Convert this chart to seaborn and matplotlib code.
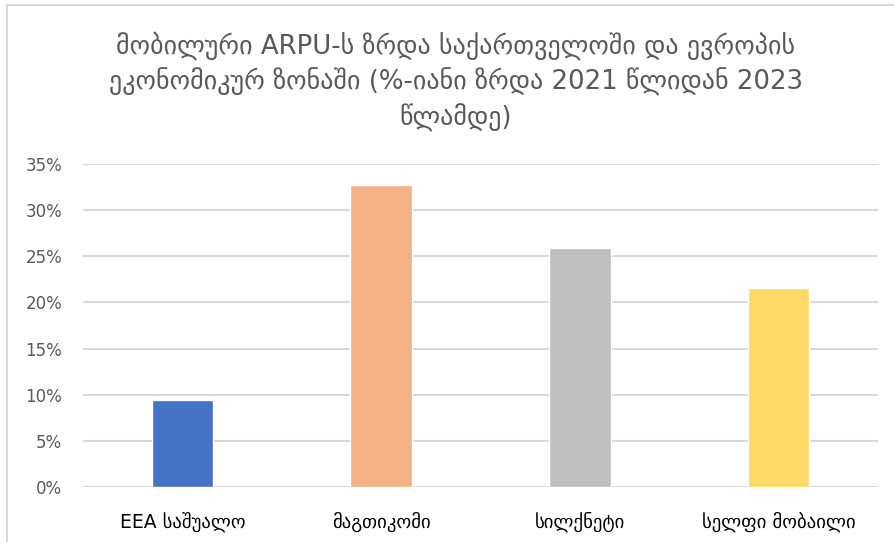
import matplotlib
matplotlib.use("Agg")
import matplotlib.pyplot as plt
import matplotlib.ticker as mticker
from matplotlib.lines import Line2D
import pandas as pd
import seaborn as sns

categories = ["EEA საშუალო", "მაგთიკომი", "სილქნეტი", "სელფი მობაილი"]
growth = [0.094, 0.327, 0.259, 0.216]
colors = ["#4472C4", "#F4B183", "#BFBFBF", "#FFD966"]
yticks = [0, 0.05, 0.10, 0.15, 0.20, 0.25, 0.30, 0.35]
title = ("მობილური ARPU-ს ზრდა საქართველოში და ევროპის\n"
         "ეკონომიკურ ზონაში (%-იანი ზრდა 2021 წლიდან 2023\n"
         "წლამდე)")

sns.set_style("white")
plt.rcParams["font.family"] = ["DejaVu Sans"]

W, H = 894, 542
fig = plt.figure(figsize=(W / 100, H / 100), dpi=100)
ax = fig.add_axes([83 / W, 1 - 487 / H, (878 - 83) / W, (487 - 164) / H])

df = pd.DataFrame({"cat": categories, "val": growth})
sns.barplot(data=df, x="cat", y="val", hue="cat", palette=colors,
            width=0.31, legend=False, ax=ax, saturation=1)

ax.set_ylim(0, 0.35)
ax.set_yticks(yticks)
ax.yaxis.set_major_formatter(mticker.PercentFormatter(1.0, decimals=0))
ax.set_xlabel("")
ax.set_ylabel("")
for s in ax.spines.values():
    s.set_visible(False)
ax.yaxis.grid(True, color="#D9D9D9", linewidth=1.5)
ax.set_axisbelow(True)
ax.tick_params(axis="y", length=0, pad=15, labelsize=12, labelcolor="#595959")
ax.tick_params(axis="x", length=0, pad=18, labelsize=13.5, labelcolor="black")

fig.text(456 / W, 1 - 82 / H, title, ha="center", va="center",
         fontsize=18.7, color="#595959", linespacing=1.35)

# chart frame (left and top edges visible)
fig.add_artist(Line2D([7 / W, 7 / W], [0, 1 - 5 / H], color="#D9D9D9",
                      linewidth=1.5, transform=fig.transFigure))
fig.add_artist(Line2D([7 / W, 1], [1 - 5 / H, 1 - 5 / H], color="#D9D9D9",
                      linewidth=1.5, transform=fig.transFigure))

fig.savefig("out.png", dpi=100, facecolor="white")
